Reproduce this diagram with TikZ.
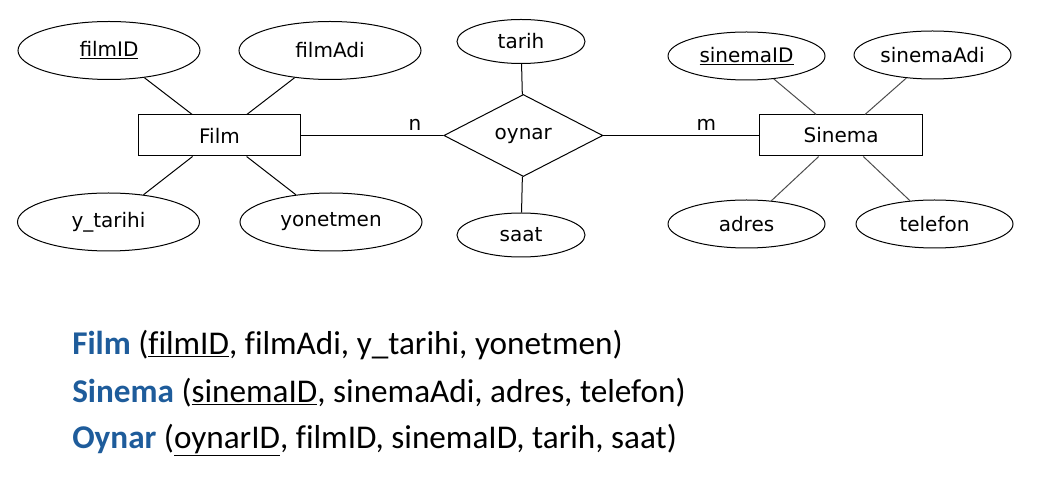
\documentclass[tikz,border=0pt]{standalone}
\usepackage{fontspec}
\setmainfont{DejaVu Sans}
\newfontfamily\calibri[Ligatures=NoCommon]{Carlito}
\usepackage{tikz}
\usetikzlibrary{positioning, shapes.geometric}
\definecolor{relblue}{RGB}{30,92,155}

\begin{document}
\begin{tikzpicture}[
        x=0.75pt, y=-0.75pt,
        entity/.style={rectangle, draw, line width=0.75pt, minimum height=30.75pt, minimum width=122pt, inner sep=0pt},
        rel/.style={diamond, draw, line width=0.75pt, aspect=2, minimum width=119.25pt, minimum height=61.5pt, inner sep=0pt},
        link/.style={line width=0.75pt},
        font=\fontsize{15pt}{18pt}\selectfont,
        node distance=1cm and 1cm
    ]

    \tikzstyle{attr} = [draw, ellipse, line width=0.75pt, inner sep=0pt]
    \tikzstyle{schema} = [anchor=base west, inner sep=0pt, font=\calibri\fontsize{24.9pt}{30pt}\selectfont]
    \useasboundingbox (0,0) rectangle (1038,484);

    \node[entity] (film) at (219.5,135.5) {Film};
    \node[rel, right=106.5pt of film] (oynar) {oynar};
    \node[entity, right=117pt of oynar] (sinema) {Sinema};

    % Film attributes
    \node[attr, minimum width=136.5pt, minimum height=43.5pt] (filmid) at (109,50.5) {\underline{filmID}};
    \node[attr, minimum width=136.5pt, minimum height=43.5pt] (filmadi) at (330,50.5) {filmAdi};
    \node[attr, minimum width=136.5pt, minimum height=43.5pt] (ytarihi) at (108.5,222) {y\_tarihi};
    \node[attr, minimum width=136.5pt, minimum height=43.5pt] (yonetmen) at (331,222) {yonetmen};

    % oynar attributes
    \node[attr, minimum width=96pt, minimum height=33pt] (tarih) at (521,41.5) {tarih};
    \node[attr, minimum width=96pt, minimum height=33pt] (saat) at (521,235) {saat};

    % Sinema attributes
    \node[attr, minimum width=117.75pt, minimum height=36pt] (sinemaid) at (746.5,56) {\underline{sinemaID}};
    \node[attr, minimum width=117.75pt, minimum height=36pt] (sinemaadi) at (932.5,55) {sinemaAdi};
    \node[attr, minimum width=117.75pt, minimum height=36pt] (adres) at (746.5,224) {adres};
    \node[attr, minimum width=117.75pt, minimum height=36pt] (telefon) at (934.5,224) {telefon};

    \draw[link] (filmid) -- (film);
    \draw[link] (filmadi) -- (film);
    \draw[link] (ytarihi) -- (film);
    \draw[link] (yonetmen) -- (film);
    \draw[link] (tarih) -- (oynar);
    \draw[link] (saat) -- (oynar);
    \draw[link, black!70] (sinemaid) -- (sinema);
    \draw[link, black!70] (sinemaadi) -- (sinema);
    \draw[link, black!70] (adres) -- (sinema);
    \draw[link, black!70] (telefon) -- (sinema);

    \draw[link] (film) -- (oynar) node[pos=0.8, above] {n};
    \draw[link] (oynar.east) -- (oynar.east -| sinema.west) node[pos=0.66, above] {m};

    % relational schema
    \node[schema] (rfilm) at (72,354) {\textbf{\color{relblue}Film} (\underline{filmID}, filmAdi, y\_tarihi, yonetmen)};
    \node[schema] (rsinema) at (72,402.5) {\textbf{\color{relblue}Sinema} (\underline{sinemaID}, sinemaAdi, adres, telefon)};
    \node[schema] (roynar) at (72,448) {\textbf{\color{relblue}Oynar} (\underline{oynarID}, filmID, sinemaID, tarih, saat)};

\end{tikzpicture}
\end{document}
